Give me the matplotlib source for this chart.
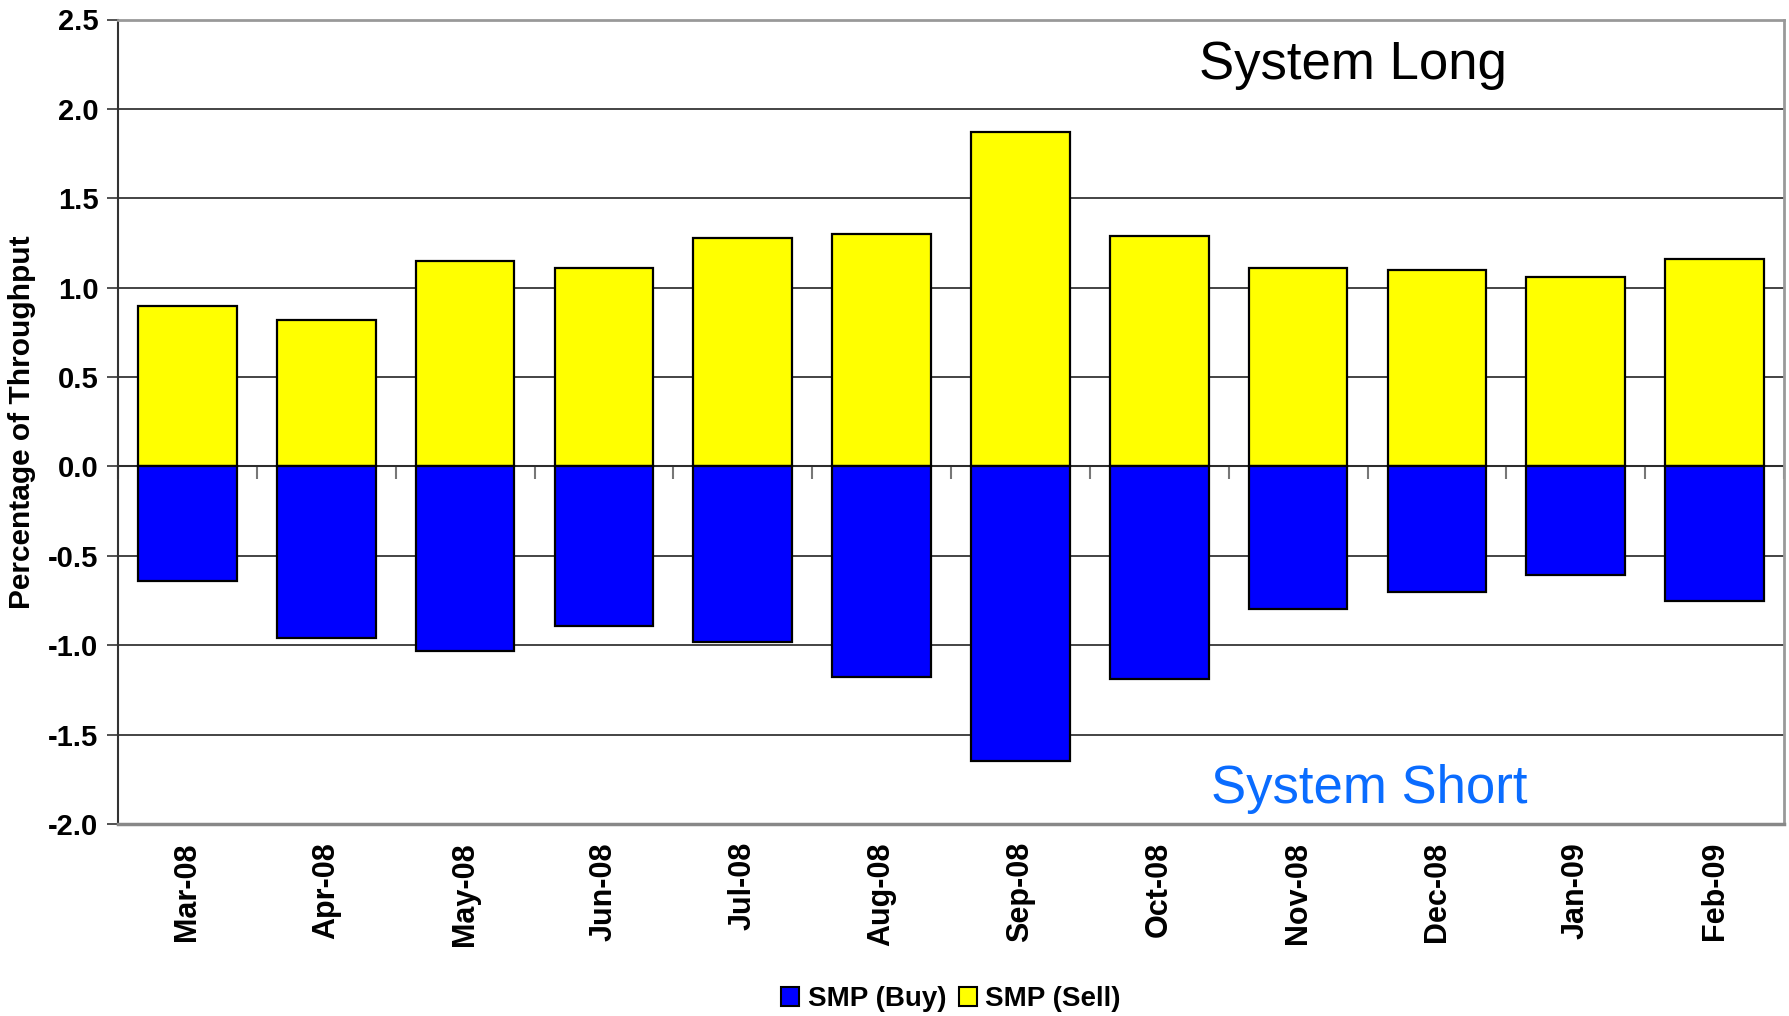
import matplotlib
matplotlib.use("Agg")
import matplotlib.pyplot as plt
import numpy as np
from matplotlib.patches import Patch

plt.rcParams['font.family'] = ['Liberation Sans', 'DejaVu Sans']

months = ["Mar-08", "Apr-08", "May-08", "Jun-08", "Jul-08", "Aug-08",
          "Sep-08", "Oct-08", "Nov-08", "Dec-08", "Jan-09", "Feb-09"]
smp_sell = [0.90, 0.82, 1.15, 1.11, 1.28, 1.30, 1.87, 1.29, 1.11, 1.10, 1.06, 1.16]
smp_buy = [-0.64, -0.96, -1.03, -0.89, -0.98, -1.18, -1.65, -1.19, -0.80, -0.70, -0.61, -0.75]
y_ticks = [-2.0, -1.5, -1.0, -0.5, 0.0, 0.5, 1.0, 1.5, 2.0, 2.5]

fig = plt.figure(figsize=(17.89, 10.16), dpi=100)
ax = fig.add_axes([118/1789, 1-824/1016, (1784-118)/1789, (824-19.5)/1016])

x = np.arange(len(months))
bw = 0.71
ax.bar(x, smp_sell, width=bw, color='#FFFF00', edgecolor='black', linewidth=1.6, zorder=3)
ax.bar(x, smp_buy, width=bw, color='#0000FF', edgecolor='black', linewidth=1.6, zorder=3)

ymin, ymax = -2.0, 2.5
ax.set_ylim(ymin, ymax)
ax.set_xlim(-0.5, len(months) - 0.5)
ax.set_yticks(y_ticks)
ax.set_yticklabels([f"{v:.1f}" for v in y_ticks], fontsize=21, fontweight='bold')
ax.tick_params(axis='y', length=8, width=1.2, color='#333333', pad=6)
ax.yaxis.grid(True, color='#111111', linewidth=1.1, zorder=0)
ax.set_axisbelow(True)

ax.set_xticks(x)
ax.set_xticklabels(months, rotation=90, fontsize=22, fontweight='bold')
ax.tick_params(axis='x', length=0, pad=13)

for s in ['top', 'right']:
    ax.spines[s].set_color('#999999')
    ax.spines[s].set_linewidth(2)
ax.spines['bottom'].set_color('#888888')
ax.spines['bottom'].set_linewidth(2.5)
ax.spines['left'].set_color('#333333')
ax.spines['left'].set_linewidth(1.5)

# zero axis with boundary ticks
zero_loc = (0 - ymin) / (ymax - ymin)
sec = ax.secondary_xaxis(zero_loc)
sec.set_xticks(np.arange(len(months) + 1) - 0.5)
sec.set_xticklabels([])
sec.tick_params(length=9, width=1.5, color='#777777', direction='out')
sec.spines['bottom'].set_color('#888888')
sec.spines['bottom'].set_linewidth(1.5)
sec.spines['bottom'].set_zorder(4)

ax.set_ylabel("Percentage of Throughput", fontsize=21.5, fontweight='bold', labelpad=9)

ax.text(0.741, 0.944, "System Long", transform=ax.transAxes, fontsize=38,
        ha='center', va='center', color='black')
ax.text(0.751, 0.044, "System Short", transform=ax.transAxes, fontsize=38,
        ha='center', va='center', color='#0A6CFF')

handles = [Patch(facecolor='#0000FF', edgecolor='black', linewidth=1.5, label='SMP (Buy)'),
           Patch(facecolor='#FFFF00', edgecolor='black', linewidth=1.5, label='SMP (Sell)')]
fig.legend(handles=handles, loc='center', bbox_to_anchor=(951/1789, 1-999/1016),
           ncol=2, frameon=False, prop={'size': 20, 'weight': 'bold'},
           handlelength=0.65, handleheight=0.65, handletextpad=0.3, columnspacing=0.45)

fig.savefig("out.png", dpi=100)
